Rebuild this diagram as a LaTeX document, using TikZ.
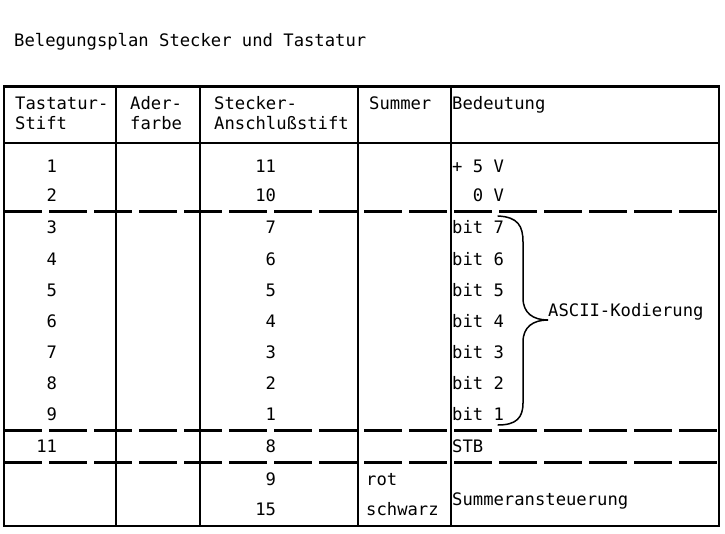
\documentclass[tikz,border=0pt]{standalone}
\usepackage{fontspec}
\newfontfamily\tabfont{DejaVu Sans Mono}
\begin{document}
\begin{tikzpicture}[x=1pt,y=-1pt,
  txt/.style={font=\tabfont\fontsize{17.2}{20}\selectfont, inner sep=0pt},
  lt/.style={txt, anchor=base west},
  rt/.style={txt, anchor=base east},
  rule/.style={line width=2.5pt},
  dashrule/.style={line width=2.7pt, dash pattern=on 38pt off 7pt},
  bracestyle/.style={line width=1.5pt, line cap=round}]
\useasboundingbox (0,0) rectangle (725,534);

% title
\node[lt] (title) at (14,47) {Belegungsplan Stecker und Tastatur};

% table rules
\draw[rule] (4,86.5) rectangle (719,526);
\foreach \xx in {116,200,358,451} \draw[rule] (\xx,86.5) -- (\xx,526);
\draw[rule] (4,143) -- (719,143);
\foreach \yy in {211.5,430.5,462.5} \draw[dashrule] (4,\yy) -- (719,\yy);

% header
\node[lt] (hA1) at (15,110) {Tastatur-};
\node[lt] (hA2) at (15,130) {Stift};
\node[lt] (hB1) at (130,110) {Ader-};
\node[lt] (hB2) at (130,130) {farbe};
\node[lt] (hC1) at (214,110) {Stecker-};
\node[lt] (hC2) at (214,130) {Anschlußstift};
\node[lt] (hD1) at (369,110) {Summer};
\node[lt] (hE1) at (452,110) {Bedeutung};

% column 1 (Tastatur-Stift)
\foreach \v/\yy [count=\i] in {1/172.3,2/201.3,3/233.3,4/265.3,5/296.3,6/327.3,7/358.3,8/389.3,9/420.3,11/452.3}
  \node[rt] (ts\i) at (57.2,\yy) {\v};

% column 3 (Stecker-Anschlussstift)
\foreach \v/\yy [count=\i] in {11/172.3,10/201.3,7/233.3,6/265.3,5/296.3,4/327.3,3/358.3,2/389.3,1/420.3,8/452.3,9/485.3,15/515.3}
  \node[rt] (sa\i) at (276.3,\yy) {\v};

% column 4 (Summer)
\node[lt] (sm1) at (366,485.3) {rot};
\node[lt] (sm2) at (366,515.3) {schwarz};

% column 5 (Bedeutung)
\node[lt] (bd1) at (452,172.3) {+ 5 V};
\node[lt] (bd2) at (472.7,201.3) {0 V};
\foreach \b/\yy [count=\i] in {7/233.3,6/265.3,5/296.3,4/327.3,3/358.3,2/389.3,1/420.3}
  \node[lt] (bit\b) at (452,\yy) {bit \b};
\node[lt] (stb) at (452,452.3) {STB};
\node[lt] (sumst) at (452,505.3) {Summeransteuerung};
\node[lt] (ascii) at (548,316.3) {ASCII-Kodierung};

% brace
\coordinate (brTop) at (498,216);
\coordinate (brBot) at (498,425);
\draw[bracestyle] (brTop) .. controls (518,217) and (523,226) .. (523,242)
  -- (523,298) .. controls (523,313) and (533,320) .. (ascii.west |- 0,320)
  .. controls (533,320) and (523,327) .. (523,342)
  -- (523,403) .. controls (523,418) and (516,425) .. (brBot);
\end{tikzpicture}
\end{document}
